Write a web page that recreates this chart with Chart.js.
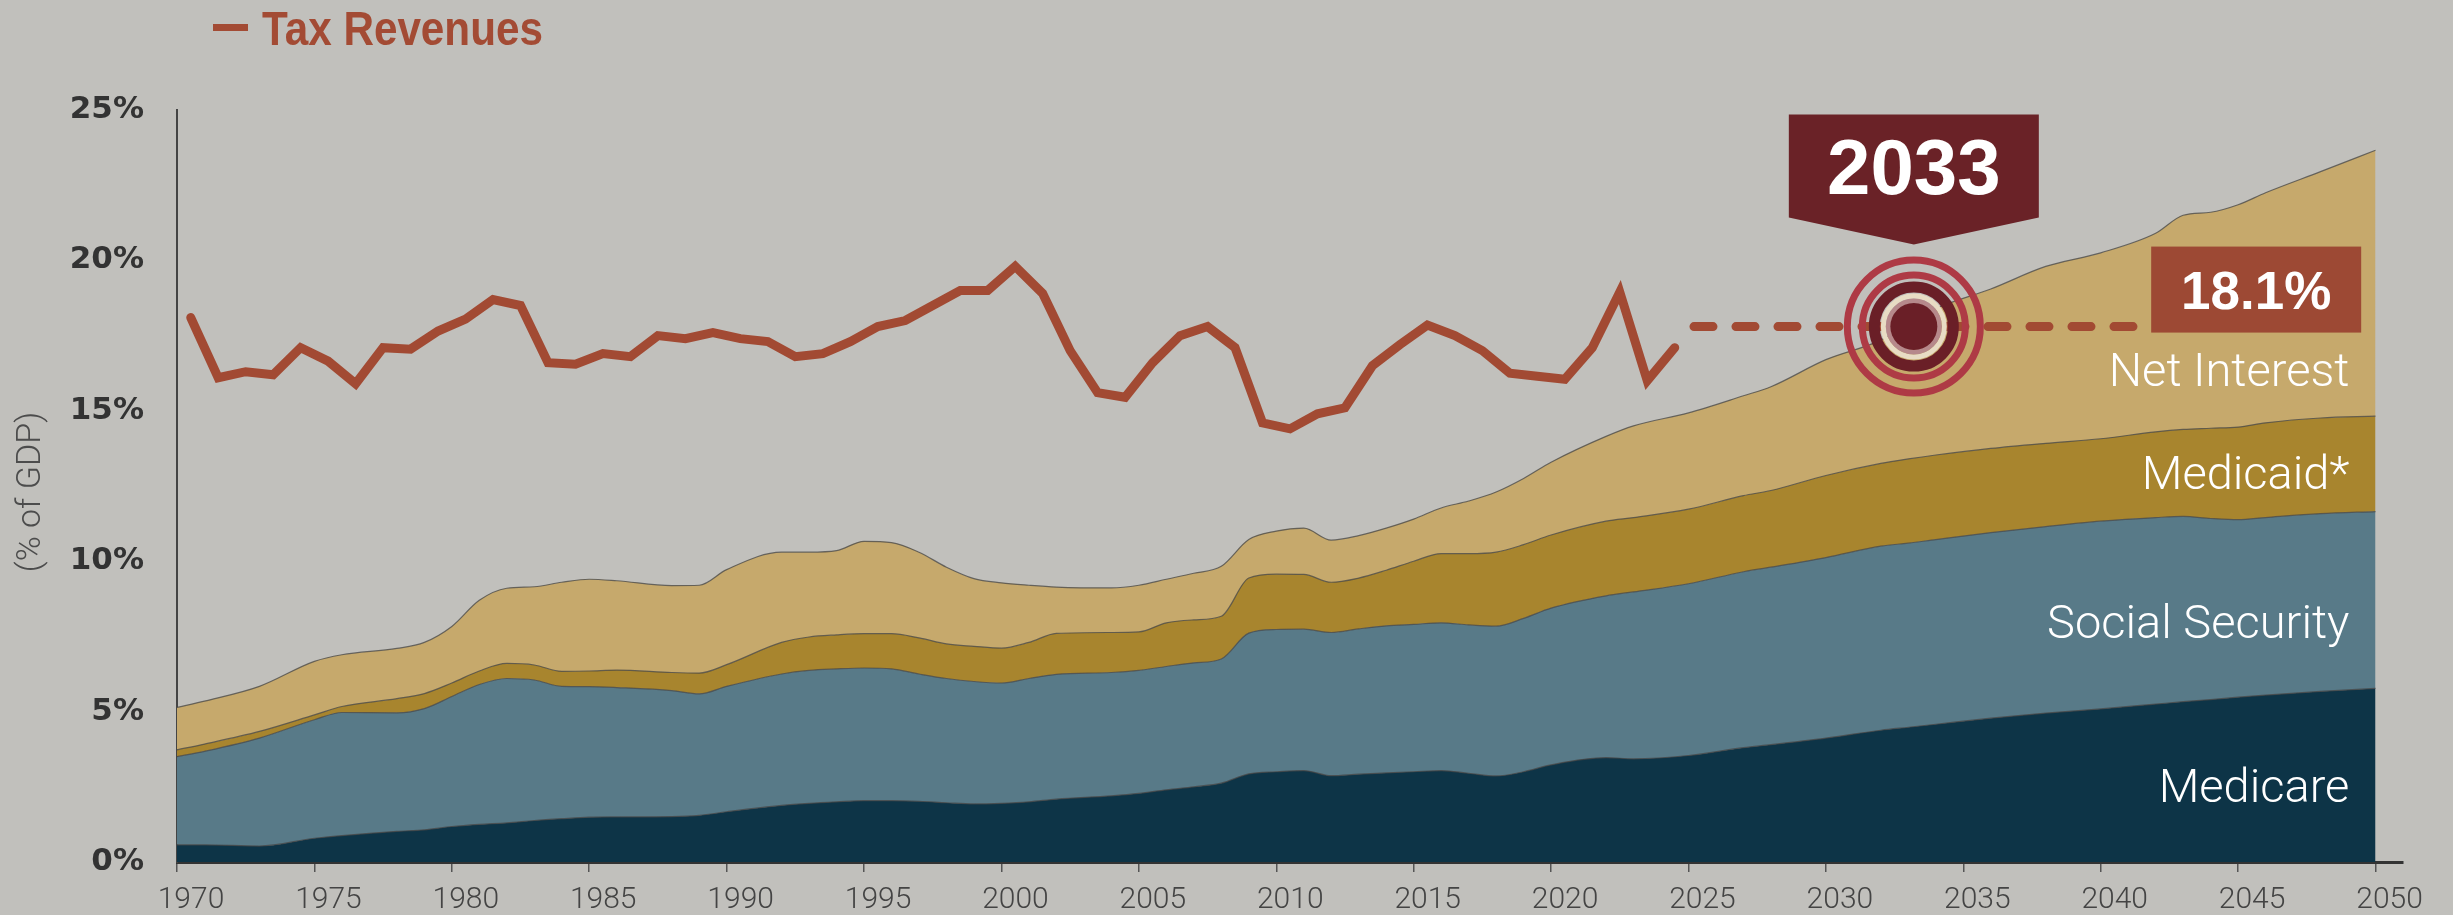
<!DOCTYPE html>
<html><head><meta charset="utf-8">
<script src="https://cdn.jsdelivr.net/npm/chart.js@4.4.1/dist/chart.umd.min.js"></script>
<style>html,body{margin:0;padding:0;background:#C1C0BC;overflow:hidden}canvas{display:block}</style>
</head><body>
<canvas id="c" width="2453" height="915"></canvas>
<script>
// ---- data (% of GDP) ----
const areaYears = [1970,1971,1973,1975,1976,1978,1979,1980,1981,1982,1983,1984,1985,1986,1988,1989,1990,1992,1993,1994,1995,1996,1997,1998,1999,2000,2001,2002,2004,2005,2006,2007,2008,2009,2010,2011,2012,2013,2014,2015,2016,2017,2018,2019,2020,2022,2023,2025,2027,2028,2030,2032,2033,2034,2036,2038,2040,2042,2043,2044,2045,2046,2048,2050];
const medicare = [0.57,0.57,0.53,0.79,0.88,1.02,1.07,1.18,1.25,1.30,1.38,1.44,1.49,1.50,1.51,1.55,1.67,1.88,1.95,2.00,2.04,2.04,2.02,1.97,1.93,1.95,2.00,2.09,2.20,2.28,2.40,2.50,2.62,2.93,3.00,3.04,2.87,2.92,2.96,3.00,3.04,2.95,2.86,3.00,3.23,3.47,3.43,3.54,3.80,3.90,4.12,4.38,4.48,4.58,4.78,4.95,5.09,5.25,5.33,5.40,5.48,5.55,5.67,5.77];
const socialSecurity = [2.93,3.11,3.59,3.94,4.09,3.94,4.03,4.32,4.65,4.80,4.67,4.40,4.34,4.30,4.19,4.04,4.17,4.37,4.42,4.42,4.41,4.38,4.23,4.13,4.07,4.00,4.10,4.15,4.10,4.09,4.10,4.12,4.13,4.68,4.73,4.70,4.76,4.83,4.89,4.90,4.91,4.93,4.98,5.10,5.21,5.38,5.55,5.71,5.85,5.90,6.00,6.12,6.12,6.14,6.17,6.20,6.24,6.20,6.16,6.02,5.90,5.90,5.91,5.88];
const medicaid = [0.23,0.24,0.22,0.16,0.20,0.47,0.50,0.45,0.45,0.50,0.50,0.50,0.52,0.58,0.60,0.69,0.72,1.05,1.11,1.13,1.14,1.17,1.20,1.15,1.17,1.16,1.20,1.36,1.33,1.28,1.45,1.43,1.42,1.83,1.84,1.82,1.67,1.69,1.85,2.10,2.30,2.37,2.46,2.45,2.43,2.48,2.47,2.48,2.53,2.55,2.73,2.75,2.80,2.81,2.80,2.77,2.74,2.85,2.89,3.00,3.08,3.15,3.18,3.17];
const netInterest = [1.41,1.43,1.50,1.78,1.72,1.67,1.70,1.88,2.35,2.50,2.60,2.96,3.05,2.97,2.89,2.92,3.16,3.00,2.82,2.80,3.07,3.03,2.85,2.55,2.25,2.17,1.90,1.54,1.48,1.55,1.45,1.55,1.66,1.28,1.43,1.54,1.40,1.41,1.40,1.40,1.52,1.75,2.00,2.20,2.42,2.82,3.05,3.20,3.32,3.45,3.85,4.10,4.50,4.87,5.30,5.88,6.18,6.60,7.12,7.18,7.39,7.65,8.19,8.84];

const taxYears = [1970,1971,1972,1973,1974,1975,1976,1977,1978,1979,1980,1981,1982,1983,1984,1985,1986,1987,1988,1989,1990,1991,1992,1993,1994,1995,1996,1997,1998,1999,2000,2001,2002,2003,2004,2005,2006,2007,2008,2009,2010,2011,2012,2013,2014,2015,2016,2017,2018,2019,2020,2021,2022,2023,2024];
const taxRevenue = [18.1,16.1,16.3,16.2,17.1,16.65,15.9,17.1,17.05,17.65,18.05,18.7,18.5,16.6,16.55,16.9,16.8,17.5,17.4,17.6,17.4,17.3,16.8,16.9,17.3,17.8,18.0,18.5,19.0,19.0,19.8,18.9,17.0,15.6,15.45,16.6,17.5,17.8,17.1,14.6,14.4,14.9,15.1,16.5,17.2,17.85,17.5,17.0,16.25,16.15,16.05,17.1,18.95,16.0,17.1];
const taxYearOffset = 0.5;           // fiscal-year values plotted mid-year

const projectedRevenue = 17.8;       // dashed level as drawn
const projectionLabel = '18.1%';
const projectionFrom = 2025.2;
const projectionTo = 2041.4;
const highlightYear = 2033;

const xTicks = [1970,1975,1980,1985,1990,1995,2000,2005,2010,2015,2020,2025,2030,2035,2040,2045,2050];
const xTickLabels = ['1970','1975','1980','1985','1990','1995','2000','2005','2010','2015','2020','2025','2030','2035','2040','2045','2050'];
const yTicks = [0,5,10,15,20,25];
const yTickLabels = ['0%','5%','10%','15%','20%','25%'];

const seriesNames = ['Medicare','Social Security','Medicaid*','Net Interest'];
const seriesLabelLevels = [2.38, 7.83, 12.78, 16.23];

// ---- chart ----
const pts = vals => vals.map((v,i)=>({x: areaYears[i], y: v}));
const edge = 'rgba(70,70,70,0.75)';
const areaBase = {borderColor: edge, borderWidth: 1.2, pointRadius: 0, cubicInterpolationMode: 'monotone', stack: 'spend', order: 2};

const decor = {
  id: 'decor',
  beforeDraw(chart) {
    const c = chart.ctx;
    c.save(); c.fillStyle = '#C1C0BC'; c.fillRect(0,0,chart.width,chart.height); c.restore();
  },
  afterDatasetsDraw(chart) {
    const c = chart.ctx, x = chart.scales.x, y = chart.scales.y;
    c.save();
    // series labels
    c.fillStyle = '#FFFFFF';
    c.font = '300 47px Roboto, "Liberation Sans", sans-serif';
    c.textAlign = 'right'; c.textBaseline = 'middle';
    const lx = x.getPixelForValue(2049.05);
    [3,2,1,0].forEach(i => c.fillText(seriesNames[i], lx, y.getPixelForValue(seriesLabelLevels[i])));

    const cx = x.getPixelForValue(highlightYear + 0.2), cy = y.getPixelForValue(projectedRevenue);
    // target rings
    const ring = (r, w, col) => { c.beginPath(); c.arc(cx, cy, r, 0, Math.PI*2); c.lineWidth = w; c.strokeStyle = col; c.stroke(); };
    ring(66.5, 7, '#AE3A45');
    ring(51.5, 7, '#AE3A45');
    ring(39.5, 11, '#6A1F27');
    ring(30.5, 5, '#E8DCC4');
    ring(25.5, 5, '#B6898B');
    c.beginPath(); c.arc(cx, cy, 23.5, 0, Math.PI*2); c.fillStyle = '#6A1F27'; c.fill();

    // year callout
    const bw = 250, top = cy - 212, bot = cy - 109, tip = cy - 82;
    c.beginPath();
    c.moveTo(cx - bw/2, top); c.lineTo(cx + bw/2, top); c.lineTo(cx + bw/2, bot);
    c.lineTo(cx, tip); c.lineTo(cx - bw/2, bot); c.closePath();
    c.fillStyle = '#6A2227'; c.fill();
    c.fillStyle = '#FFFFFF';
    c.font = 'bold 78px "Liberation Sans", Arial, sans-serif';
    c.textAlign = 'center'; c.textBaseline = 'alphabetic';
    c.fillText(String(highlightYear), cx, cy - 133);

    // value box
    const vx = x.getPixelForValue(projectionTo) + 12;
    c.fillStyle = '#9D4934';
    c.fillRect(vx, cy - 80, 210, 86);
    c.fillStyle = '#FFFFFF';
    c.font = 'bold 53px "Liberation Sans", Arial, sans-serif';
    c.fillText(projectionLabel, vx + 105, cy - 18);
    c.restore();
  },
  afterDraw(chart) {
    const c = chart.ctx;
    c.save();
    // legend
    c.fillStyle = '#A34B34';
    c.fillRect(213, 24, 35, 7);
    c.save();
    c.translate(262, 45); c.scale(0.862, 1);
    c.font = 'bold 49px "Liberation Sans", Arial, sans-serif';
    c.textAlign = 'left'; c.textBaseline = 'alphabetic';
    c.fillText('Tax Revenues', 0, 0);
    c.restore();
    // y title
    c.translate(31, 492); c.rotate(-Math.PI/2);
    c.fillStyle = '#4C4C4C';
    c.font = '300 34px Roboto, "Liberation Sans", sans-serif';
    c.textAlign = 'center'; c.textBaseline = 'middle';
    c.fillText('(% of GDP)', 0, 0);
    c.restore();
  }
};

new Chart(document.getElementById('c').getContext('2d'), {
  type: 'line',
  data: { datasets: [
    Object.assign({label: seriesNames[0], data: pts(medicare), backgroundColor: '#0D3447', fill: 'origin'}, areaBase),
    Object.assign({label: seriesNames[1], data: pts(socialSecurity), backgroundColor: '#587A88', fill: '-1'}, areaBase),
    Object.assign({label: seriesNames[2], data: pts(medicaid), backgroundColor: '#A8852E', fill: '-1'}, areaBase),
    Object.assign({label: seriesNames[3], data: pts(netInterest), backgroundColor: '#C6A96C', fill: '-1'}, areaBase),
    {label: 'Tax Revenues', data: taxYears.map((yr,i)=>({x: yr + taxYearOffset, y: taxRevenue[i]})),
     borderColor: '#A24A33', borderWidth: 9, fill: false, pointRadius: 0, tension: 0,
     borderJoinStyle: 'miter', borderCapStyle: 'round', stack: 'tax', order: 0},
    {label: 'Projection', data: [{x: projectionFrom, y: projectedRevenue}, {x: projectionTo, y: projectedRevenue}],
     borderColor: '#A24A33', borderWidth: 9, borderDash: [19, 23], borderCapStyle: 'round', fill: false,
     pointRadius: 0, stack: 'proj', order: 0}
  ]},
  options: {
    responsive: false, devicePixelRatio: 1, animation: false,
    layout: {padding: {left: 0, right: 50, top: 110, bottom: 0}},
    plugins: {legend: {display: false}, tooltip: {enabled: false}},
    scales: {
      x: {
        type: 'linear', min: 1970, max: 2051,
        afterBuildTicks: s => { s.ticks = xTicks.map(v => ({value: v})); },
        afterFit: s => { s.height = 53; },
        ticks: {callback: (v, i) => xTickLabels[i], font: {family: 'Roboto, "Liberation Sans", sans-serif', size: 30, weight: '300'},
                color: '#444', padding: 10, labelOffset: 14, maxRotation: 0, autoSkip: false},
        grid: {display: true, drawOnChartArea: false, drawTicks: true, tickLength: 10, color: '#555', lineWidth: 1.5},
        border: {display: true, color: '#333', width: 3}
      },
      y: {
        stacked: true, min: 0, max: 25,
        afterBuildTicks: s => { s.ticks = yTicks.map(v => ({value: v})); },
        afterFit: s => { s.width = 177; },
        ticks: {callback: (v, i) => yTickLabels[i], font: {family: '"DejaVu Sans", sans-serif', size: 31, weight: 'bold'}, color: '#333', padding: 33},
        grid: {display: false, drawTicks: false},
        border: {display: true, color: '#444', width: 2}
      }
    }
  },
  plugins: [decor]
});
</script>
</body></html>
